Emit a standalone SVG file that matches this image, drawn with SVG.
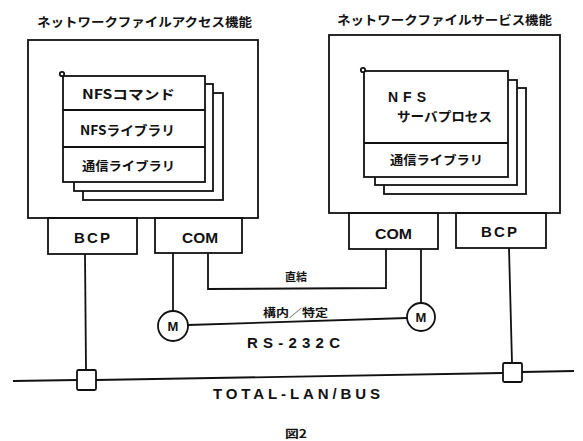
<svg xmlns="http://www.w3.org/2000/svg" width="583" height="441" viewBox="0 0 583 441">
<style>
.b{fill:none;stroke:#111;stroke-width:1.8}
.w{fill:#fff;stroke:#111;stroke-width:1.8}
.l{fill:none;stroke:#111;stroke-width:1.8}
.t{font-family:"Liberation Sans","Noto Sans CJK JP",sans-serif;font-weight:bold;fill:#111}
.j{font-family:"Noto Sans CJK JP","Liberation Sans",sans-serif;font-weight:bold;fill:#111}
</style>
<rect width="583" height="441" fill="#fff"/>
<g id="left-title"><text class="j" x="37" y="27" font-size="12.5" textLength="215" lengthAdjust="spacingAndGlyphs">ネットワークファイルアクセス機能</text></g>
<g id="right-title"><text class="j" x="337" y="25" font-size="12.5" textLength="215" lengthAdjust="spacingAndGlyphs">ネットワークファイルサービス機能</text></g>
<g id="left-host">
<rect class="b" x="28" y="40" width="230" height="178"/>
<rect class="w" x="83" y="93" width="140" height="107"/>
<rect class="w" x="74" y="84" width="139" height="107"/>
<rect class="w" x="63" y="76" width="142" height="106"/>
<line class="l" x1="63" y1="110" x2="205" y2="110"/>
<line class="l" x1="63" y1="147" x2="205" y2="147"/>
<circle class="w" cx="62" cy="74" r="2.2" stroke-width="1.2"/>
<text class="j" x="82" y="99" font-size="13" textLength="93" lengthAdjust="spacingAndGlyphs">NFSコマンド</text>
<text class="j" x="80" y="135" font-size="13" textLength="95" lengthAdjust="spacingAndGlyphs">NFSライブラリ</text>
<text class="j" x="82" y="171" font-size="12.5" textLength="93" lengthAdjust="spacingAndGlyphs">通信ライブラリ</text>
</g>
<g id="right-host">
<rect class="b" x="329" y="35" width="231" height="178"/>
<rect class="w" x="384" y="88" width="142" height="106"/>
<rect class="w" x="375" y="80" width="142" height="105"/>
<rect class="w" x="364" y="71" width="144" height="106"/>
<line class="l" x1="364" y1="143" x2="508" y2="143"/>
<circle class="w" cx="363" cy="70" r="2.2" stroke-width="1.2"/>
<text class="t" x="388" y="102" font-size="14" textLength="38" lengthAdjust="spacing">NFS</text>
<text class="j" x="397" y="121" font-size="13" textLength="95" lengthAdjust="spacingAndGlyphs">サーバプロセス</text>
<text class="j" x="390" y="165" font-size="12.5" textLength="93" lengthAdjust="spacingAndGlyphs">通信ライブラリ</text>
</g>
<g id="left-bcp"><rect class="b" x="48" y="218" width="89" height="36"/><text class="t" x="74" y="242.5" font-size="15" textLength="36" lengthAdjust="spacing">BCP</text></g>
<g id="left-com"><rect class="b" x="155" y="218" width="87" height="35"/><text class="t" x="182" y="242.5" font-size="15" textLength="36" lengthAdjust="spacingAndGlyphs">COM</text></g>
<g id="right-com"><rect class="b" x="349" y="213" width="89" height="36"/><text class="t" x="375" y="238.5" font-size="15" textLength="37" lengthAdjust="spacingAndGlyphs">COM</text></g>
<g id="right-bcp"><rect class="b" x="456" y="213" width="90" height="35"/><text class="t" x="481" y="236.5" font-size="15" textLength="36" lengthAdjust="spacing">BCP</text></g>
<g id="connectors">
<polyline class="l" points="208,253 208,289 386,288 386,249"/>
<line class="l" x1="173" y1="253" x2="173" y2="311"/>
<line class="l" x1="421" y1="249" x2="421" y2="303"/>
<line class="l" x1="188" y1="325" x2="407" y2="318"/>
<line class="l" x1="85" y1="254" x2="86" y2="370"/>
<line class="l" x1="509" y1="248" x2="512" y2="363"/>
<line class="l" x1="13" y1="381" x2="77" y2="380"/>
<line class="l" x1="96" y1="380" x2="503" y2="373"/>
<line class="l" x1="522" y1="372" x2="574" y2="371"/>
</g>
<g id="modem-left"><circle class="w" cx="173" cy="326" r="15"/><text class="t" x="173" y="331" font-size="13" text-anchor="middle">M</text></g>
<g id="modem-right"><circle class="w" cx="421" cy="317" r="14"/><text class="t" x="421" y="322" font-size="13" text-anchor="middle">M</text></g>
<g id="tap-left"><rect class="w" x="77" y="370" width="19" height="20" rx="1.5"/></g>
<g id="tap-right"><rect class="w" x="503" y="363" width="19" height="19" rx="1.5"/></g>
<g id="labels">
<text class="j" x="285" y="281" font-size="11" textLength="22" lengthAdjust="spacingAndGlyphs">直結</text>
<text class="j" x="263" y="317" font-size="11" textLength="65" lengthAdjust="spacingAndGlyphs">構内／特定</text>
<text class="t" x="247" y="348" font-size="15" textLength="93" lengthAdjust="spacing">RS-232C</text>
<text class="t" x="213" y="399" font-size="15" textLength="167" lengthAdjust="spacing">TOTAL-LAN/BUS</text>
<text class="j" x="285" y="438" font-size="11" textLength="22" lengthAdjust="spacingAndGlyphs">図2</text>
</g>
</svg>
